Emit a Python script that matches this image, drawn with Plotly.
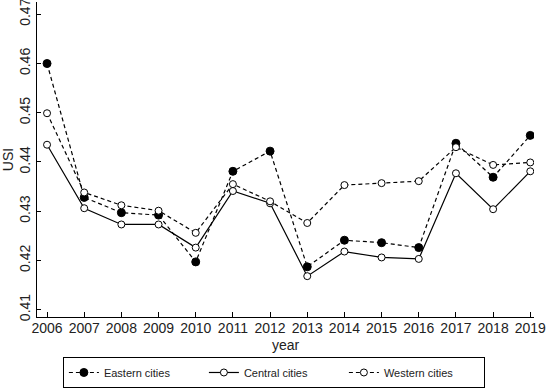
import plotly.graph_objects as go

years = [2006, 2007, 2008, 2009, 2010, 2011, 2012, 2013, 2014, 2015, 2016, 2017, 2018, 2019]
eastern = [0.4600, 0.4328, 0.4297, 0.4292, 0.4197, 0.4381, 0.4422, 0.4187, 0.4241, 0.4236, 0.4226, 0.4438, 0.4369, 0.4454]
central = [0.4435, 0.4306, 0.4273, 0.4273, 0.4226, 0.4341, 0.4316, 0.4168, 0.4218, 0.4206, 0.4203, 0.4377, 0.4304, 0.4381]
western = [0.4499, 0.4338, 0.4312, 0.4301, 0.4256, 0.4355, 0.4320, 0.4276, 0.4353, 0.4357, 0.4361, 0.4430, 0.4394, 0.4399]
y_ticks = [0.41, 0.42, 0.43, 0.44, 0.45, 0.46, 0.47]

fig = go.Figure()
fig.add_trace(go.Scatter(
    x=years, y=eastern, name="Eastern cities", mode="lines+markers",
    line=dict(color="black", width=1.2, dash="4px,3px"),
    marker=dict(symbol="circle", size=8, color="black", line=dict(color="black", width=1)),
))
fig.add_trace(go.Scatter(
    x=years, y=central, name="Central cities", mode="lines+markers",
    line=dict(color="black", width=1.2),
    marker=dict(symbol="circle", size=7, color="white", line=dict(color="black", width=1)),
))
fig.add_trace(go.Scatter(
    x=years, y=western, name="Western cities", mode="lines+markers",
    line=dict(color="black", width=1.2, dash="4px,3px"),
    marker=dict(symbol="circle", size=7, color="white", line=dict(color="black", width=1)),
))

fig.update_layout(
    width=550, height=391,
    margin=dict(l=37, r=16, t=2, b=74),
    paper_bgcolor="white", plot_bgcolor="white",
    font=dict(family="Liberation Sans, Arial, sans-serif", color="#222", size=14),
    showlegend=True,
    legend=dict(
        orientation="h", xref="container", yref="container",
        x=0.498, xanchor="center", y=0.087, yanchor="top",
        bordercolor="black", borderwidth=1, font=dict(size=11),
        entrywidth=95, entrywidthmode="pixels",
    ),
    annotations=[dict(
        text="year", xref="paper", yref="paper", x=0.5, y=-0.058,
        xanchor="center", yanchor="top", showarrow=False,
        font=dict(size=14, color="#222"),
    )],
)
fig.update_xaxes(
    range=[2005.73, 2019.1], tickmode="array", tickvals=years,
    ticktext=[str(y) for y in years], automargin=False, ticklabeloverflow="allow",
    ticklabelstandoff=-2,
    showline=True, linecolor="black", linewidth=1,
    ticks="inside", ticklen=5, tickcolor="black", showgrid=False, zeroline=False,
    tickfont=dict(size=14),
)
fig.update_yaxes(
    range=[0.4085, 0.4725], tickmode="array", tickvals=y_ticks,
    ticktext=[f"{v:.2f}" for v in y_ticks], tickangle=-90, automargin=False,
    ticklabeloverflow="allow",
    showline=True, linecolor="black", linewidth=1,
    ticks="inside", ticklen=4, tickcolor="black", showgrid=False, zeroline=False,
    title=dict(text="USI", standoff=0, font=dict(size=14)),
    tickfont=dict(size=14),
)

fig.write_html("out.html", config={"displayModeBar": False},
               post_script="document.body.style.margin='0';")
